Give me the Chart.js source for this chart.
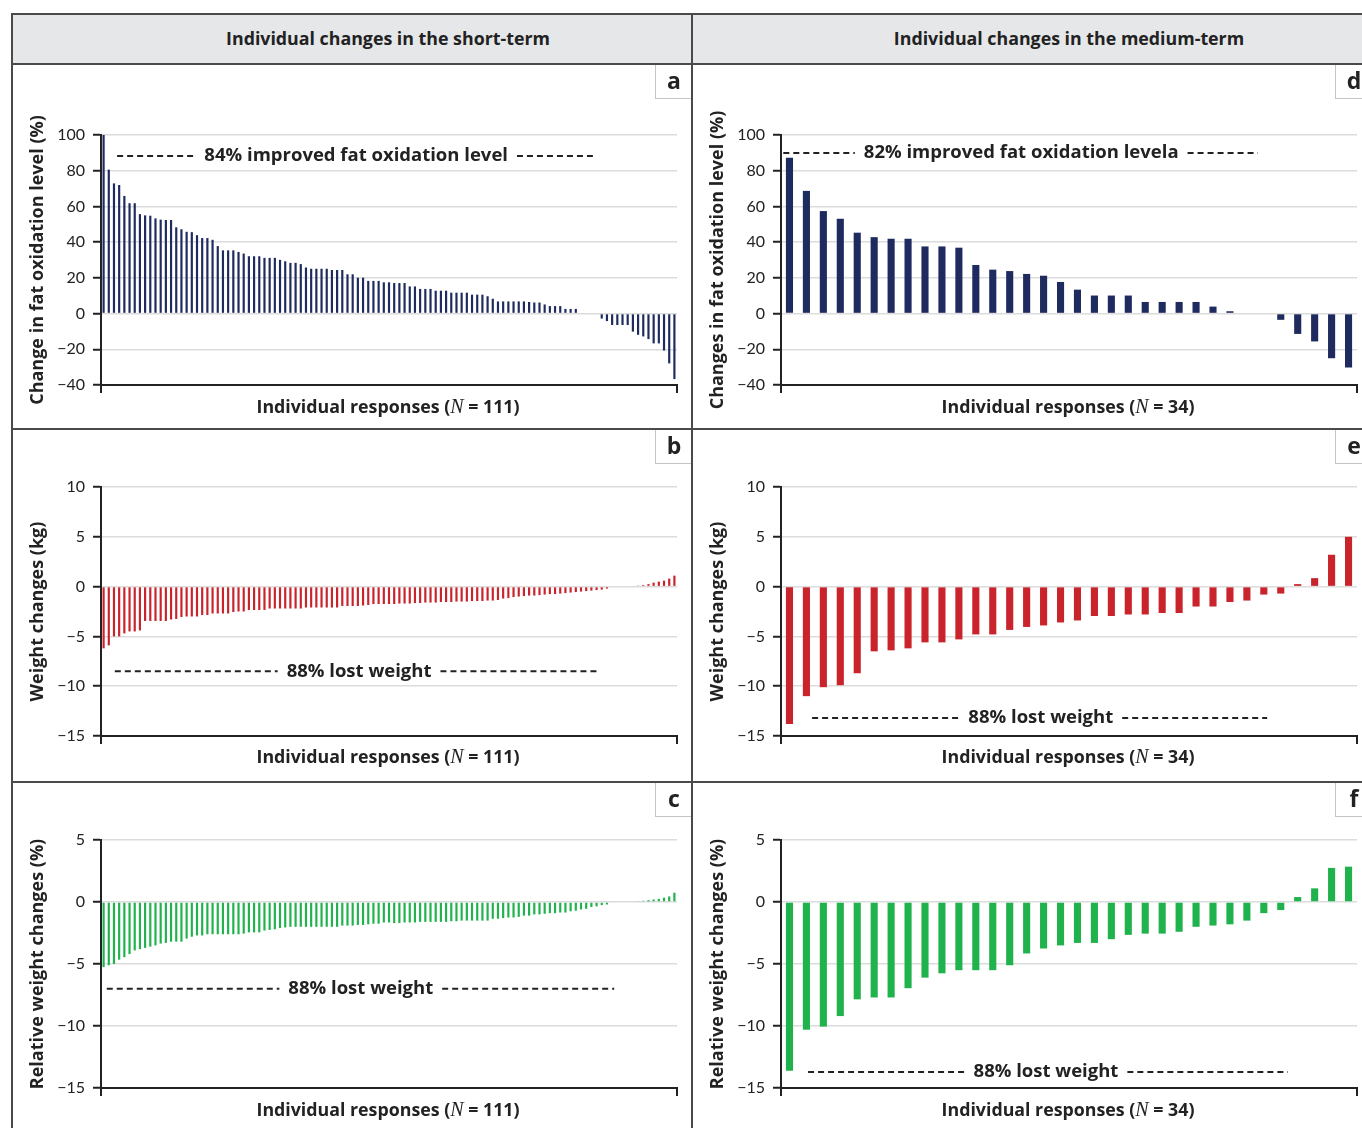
<!DOCTYPE html>
<html>
<head>
<meta charset="utf-8">
<script src="https://cdn.jsdelivr.net/npm/chart.js@4.4.0/dist/chart.umd.min.js"></script>
<style>
body{margin:0;background:#fff;font-family:"Open Sans",sans-serif;color:#222}
#fig{position:relative;width:1362px;height:1128px;overflow:hidden}
.hbg{position:absolute;left:12px;top:14px;width:1350px;height:50px;background:#e6e7e9}
.ln{position:absolute;background:#4a4a4a;z-index:5}
.hdr{position:absolute;top:26px;line-height:24px;font-weight:bold;font-size:17.8px;white-space:nowrap;transform:translateX(-50%)}
.cv{position:absolute}
.xt{position:absolute;line-height:22px;font-weight:bold;font-size:17.8px;white-space:nowrap;transform:translateX(-50%)}
.xt i{font-family:"Liberation Serif",serif;font-weight:normal;font-size:20px}
.tag{position:absolute;width:36px;height:33px;background:#fff;border-left:1px solid #c4c4c4;border-bottom:1px solid #c4c4c4;font-weight:bold;font-size:23px;text-align:center;line-height:31px;z-index:4}
</style>
</head>
<body>
<div id="fig">
  <div class="hbg"></div>
  <div class="hdr" style="left:388px">Individual changes in the short-term</div>
  <div class="hdr" style="left:1069px">Individual changes in the medium-term</div>

  <canvas id="cA" class="cv" width="680" height="365" style="left:12px;top:64px"></canvas>
  <canvas id="cB" class="cv" width="680" height="353" style="left:12px;top:429px"></canvas>
  <canvas id="cC" class="cv" width="680" height="346" style="left:12px;top:782px"></canvas>
  <canvas id="cD" class="cv" width="670" height="365" style="left:692px;top:64px"></canvas>
  <canvas id="cE" class="cv" width="670" height="353" style="left:692px;top:429px"></canvas>
  <canvas id="cF" class="cv" width="670" height="346" style="left:692px;top:782px"></canvas>

  <div class="xt" style="left:388px;top:395px">Individual responses (<i>N</i> = 111)</div>
  <div class="xt" style="left:388px;top:745px">Individual responses (<i>N</i> = 111)</div>
  <div class="xt" style="left:388px;top:1098px">Individual responses (<i>N</i> = 111)</div>
  <div class="xt" style="left:1068px;top:395px">Individual responses (<i>N</i> = 34)</div>
  <div class="xt" style="left:1068px;top:745px">Individual responses (<i>N</i> = 34)</div>
  <div class="xt" style="left:1068px;top:1098px">Individual responses (<i>N</i> = 34)</div>

  <div class="tag" style="left:655px;top:65px">a</div>
  <div class="tag" style="left:655px;top:430px">b</div>
  <div class="tag" style="left:655px;top:783px">c</div>
  <div class="tag" style="left:1335px;top:65px">d</div>
  <div class="tag" style="left:1335px;top:430px">e</div>
  <div class="tag" style="left:1335px;top:783px">f</div>

  <div class="ln" style="left:12px;top:13px;width:1350px;height:2px"></div>
  <div class="ln" style="left:12px;top:63px;width:1350px;height:2px"></div>
  <div class="ln" style="left:12px;top:428px;width:1350px;height:2px"></div>
  <div class="ln" style="left:12px;top:781px;width:1350px;height:2px"></div>
  <div class="ln" style="left:11px;top:13px;width:2px;height:1115px"></div>
  <div class="ln" style="left:691px;top:13px;width:2px;height:1115px"></div>
</div>

<script>
// short-term, N = 111
const shortIds = Array.from({length: 111}, (_, i) => i + 1);
const shortFatOx = [
  100, 80.6, 72.9, 72, 65.9, 61.8, 61.8, 55.7, 55, 54.8, 53.3, 52.6, 52.4, 52.4, 48.3, 47.2,
  45.8, 45.6, 43.9, 42.3, 42.3, 41.3, 37.8, 35.4, 35.4, 35.4, 34.5, 33.6, 32.1, 32.1, 32.1,
  31.2, 31.2, 31.2, 30.1, 29.3, 28.4, 28.4, 27.7, 25.8, 25.1, 25.1, 25.1, 25.1, 24.4, 24.4,
  24.4, 22, 22, 20.1, 20.1, 18.3, 18.3, 18.3, 17.5, 17.5,
  17.1, 17.1, 17.1, 15.2, 15.2, 13.8, 13.8, 13.8, 12.8, 12.8, 12.8, 11.7, 11.7, 11.7, 11.7,
  10.6, 10.6, 10.6, 9.7, 8.3, 6.8, 6.8, 6.8, 6.8, 6.8, 6.8, 6.5, 6.2, 6.2, 5.1, 4.2, 4.2,
  4.2, 2.6, 2.6, 2.6,
  0, 0, 0, 0,
  -2.8, -4.2, -6.4, -6.4, -6.4, -6.4, -10.1, -11.9, -12.8, -14.3, -16.7, -16.7, -20.7, -27.9, -36.7
];
const shortWeight = [
  -6.2, -5.9, -5.0, -5.0, -4.7, -4.5, -4.5, -4.4, -3.45, -3.45, -3.45, -3.45, -3.45, -3.3,
  -3.25, -3.05, -3.0, -3.0, -3.0, -2.85, -2.85, -2.7, -2.7, -2.7, -2.7, -2.55, -2.5, -2.5,
  -2.35, -2.35, -2.35, -2.35, -2.2, -2.2, -2.2, -2.2, -2.2, -2.2, -2.2, -2.1, -2.1, -2.1,
  -2.1, -2.1, -2.1, -2.1, -1.95, -1.95, -1.95, -1.95, -1.9, -1.85, -1.75, -1.75, -1.75, -1.75,
  -1.75, -1.7, -1.7, -1.7, -1.65, -1.65, -1.6, -1.6, -1.6, -1.55, -1.55, -1.55, -1.5, -1.5,
  -1.5, -1.45, -1.45, -1.45, -1.4, -1.4, -1.35,
  -1.2, -1.15, -1.05, -1.0, -0.95, -0.9, -0.9, -0.85, -0.8, -0.75, -0.75, -0.7, -0.65, -0.6,
  -0.55, -0.5, -0.45, -0.4, -0.35, -0.3, -0.2,
  0, 0, 0, 0, 0,
  0.1, 0.15, 0.25, 0.4, 0.5, 0.6, 0.8, 1.1
];
const shortRelWeight = [
  -5.25, -5.1, -5.0, -4.65, -4.45, -4.2, -3.9, -3.8, -3.7, -3.6, -3.5, -3.35, -3.3, -3.2,
  -3.2, -3.2, -2.95, -2.8, -2.7, -2.7, -2.6, -2.6, -2.6, -2.6, -2.6, -2.6, -2.6, -2.55,
  -2.45, -2.45, -2.45, -2.3, -2.25, -2.2, -2.1, -2.05, -2.0, -2.0, -2.0, -2.0, -2.0, -2.0,
  -2.0, -2.0, -2.0, -2.0, -1.9, -1.9, -1.9, -1.85, -1.85, -1.8, -1.75, -1.75, -1.65, -1.65,
  -1.7, -1.7, -1.65, -1.65, -1.65, -1.6, -1.6, -1.6, -1.6, -1.6, -1.6, -1.55, -1.55,
  -1.5, -1.5, -1.5, -1.5, -1.5, -1.5, -1.35, -1.35, -1.3, -1.25, -1.25, -1.2, -1.1, -1.1,
  -1.0, -1.0, -0.95, -0.9, -0.9, -0.85, -0.85, -0.75, -0.7, -0.6, -0.55, -0.4, -0.35, -0.25, -0.2,
  0, 0, 0, 0, 0,
  0.05, 0.1, 0.15, 0.2, 0.25, 0.35, 0.45, 0.75
];

// medium-term, N = 34
const mediumIds = Array.from({length: 34}, (_, i) => i + 1);
const mediumFatOx = [
  87.3, 68.7, 57.4, 53.1, 45.3, 42.8, 41.9, 41.9, 37.6, 37.6, 36.9, 27.2, 24.6, 23.8, 22.2,
  21.2, 17.7, 13.4, 10.1, 10.1, 10.1, 6.5, 6.5, 6.5, 6.5, 3.9, 1.3, 0, 0, -3.5, -11.4, -15.6, -25, -30.2
];
const mediumWeight = [
  -13.8, -11.0, -10.1, -9.9, -8.7, -6.5, -6.4, -6.2, -5.6, -5.6, -5.3, -4.8, -4.8, -4.35, -4.05,
  -3.9, -3.6, -3.4, -2.95, -2.95, -2.8, -2.8, -2.65, -2.65, -2.0, -2.0, -1.55, -1.4, -0.8, -0.7,
  0.25, 0.85, 3.2, 5.0
];
const mediumRelWeight = [
  -13.6, -10.3, -10.05, -9.2, -7.85, -7.7, -7.7, -6.95, -6.1, -5.75, -5.5, -5.5, -5.5, -5.1, -4.15,
  -3.75, -3.5, -3.3, -3.3, -3.0, -2.65, -2.55, -2.55, -2.4, -2.0, -1.9, -1.8, -1.5, -0.9, -0.65,
  0.4, 1.1, 2.75, 2.85
];

// y axis ticks
const fatOxTicks = [-40, -20, 0, 20, 40, 60, 80, 100];
const weightTicks = [-15, -10, -5, 0, 5, 10];
const relWeightTicks = [-15, -10, -5, 0, 5];

const navy = '#1f2b5e', red = '#c9232c', green = '#20b24c';

// dashed line + label in the plot, and the two end ticks of the x axis
const notePlugin = {
  id: 'note',
  afterDraw(chart, args, o) {
    const {ctx, chartArea: a} = chart;
    const yy = chart.scales.y.getPixelForValue(o.value);
    ctx.save();
    ctx.font = 'bold 18.5px "Open Sans"';
    ctx.fillStyle = '#222';
    ctx.textAlign = 'center';
    ctx.textBaseline = 'middle';
    const cx = a.left + o.center * a.width;
    const w = ctx.measureText(o.text).width;
    ctx.fillText(o.text, cx, yy);
    ctx.strokeStyle = '#222';
    ctx.lineWidth = 2;
    ctx.setLineDash([6, 4]);
    ctx.beginPath();
    ctx.moveTo(a.left + o.from * a.width, yy);
    ctx.lineTo(cx - w / 2 - 9, yy);
    ctx.moveTo(cx + w / 2 + 9, yy);
    ctx.lineTo(a.left + o.to * a.width, yy);
    ctx.stroke();
    ctx.setLineDash([]);
    ctx.beginPath();
    ctx.moveTo(a.left, a.bottom);
    ctx.lineTo(a.left, a.bottom + 8);
    ctx.moveTo(a.right, a.bottom);
    ctx.lineTo(a.right, a.bottom + 8);
    ctx.stroke();
    ctx.restore();
  }
};

function makeChart(id, labels, values, color, ticks, yTitle, pad, note) {
  new Chart(document.getElementById(id), {
    type: 'bar',
    data: {
      labels: labels,
      datasets: [{
        data: values,
        backgroundColor: color,
        barPercentage: 0.42,
        categoryPercentage: 1,
        borderWidth: 0
      }]
    },
    options: {
      responsive: false,
      animation: false,
      layout: {padding: {top: pad.top, right: pad.right, left: 0, bottom: 0}},
      plugins: {legend: {display: false}, tooltip: {enabled: false}, note: note},
      scales: {
        x: {
          ticks: {display: false},
          grid: {display: false},
          border: {color: '#222', width: 2},
          afterFit: s => { s.height = pad.bottom; }
        },
        y: {
          min: ticks[0],
          max: ticks[ticks.length - 1],
          ticks: {
            stepSize: ticks[1] - ticks[0],
            color: '#222',
            padding: 8,
            font: {family: 'Lato', size: 16},
            callback: v => String(v).replace('-', '\u2212')
          },
          grid: {color: '#dcdcdc', lineWidth: 1.5, tickColor: '#222', tickLength: 8, tickWidth: 2},
          border: {color: '#222', width: 2},
          title: {
            display: true,
            text: yTitle,
            color: '#222',
            font: {family: 'Open Sans', size: 18, weight: 'bold'},
            padding: {top: 15, bottom: 0}
          },
          afterFit: s => { s.width = 89; }
        }
      }
    },
    plugins: [notePlugin]
  });
}

makeChart('cA', shortIds, shortFatOx, navy, fatOxTicks, 'Change in fat oxidation level (%)',
  {top: 71, right: 15, bottom: 44},
  {text: '84% improved fat oxidation level', value: 88.2, from: 0.028, center: 0.443, to: 0.854});
makeChart('cB', shortIds, shortWeight, red, weightTicks, 'Weight changes (kg)',
  {top: 58, right: 15, bottom: 46},
  {text: '88% lost weight', value: -8.5, from: 0.024, center: 0.448, to: 0.866});
makeChart('cC', shortIds, shortRelWeight, green, relWeightTicks, 'Relative weight changes (%)',
  {top: 58, right: 15, bottom: 40},
  {text: '88% lost weight', value: -7.0, from: 0.010, center: 0.451, to: 0.891});
makeChart('cD', mediumIds, mediumFatOx, navy, fatOxTicks, 'Changes in fat oxidation level (%)',
  {top: 71, right: 5, bottom: 44},
  {text: '82% improved fat oxidation levela', value: 89.9, from: 0.004, center: 0.417, to: 0.828});
makeChart('cE', mediumIds, mediumWeight, red, weightTicks, 'Weight changes (kg)',
  {top: 58, right: 5, bottom: 46},
  {text: '88% lost weight', value: -13.2, from: 0.054, center: 0.451, to: 0.844});
makeChart('cF', mediumIds, mediumRelWeight, green, relWeightTicks, 'Relative weight changes (%)',
  {top: 58, right: 5, bottom: 40},
  {text: '88% lost weight', value: -13.7, from: 0.047, center: 0.460, to: 0.880});
</script>
</body>
</html>
